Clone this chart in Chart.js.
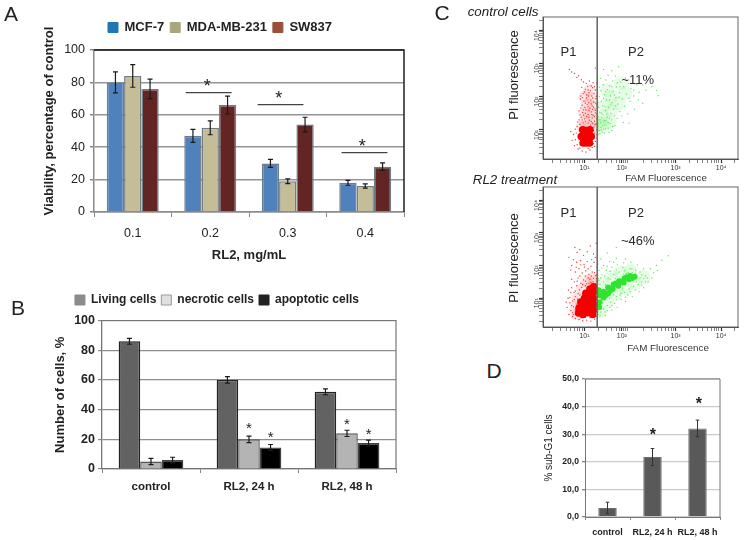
<!DOCTYPE html>
<html>
<head>
<meta charset="utf-8">
<title>RL2 viability and apoptosis</title>
<script src="https://cdn.jsdelivr.net/npm/chart.js@4/dist/chart.umd.min.js"></script>
<style>
  html, body { margin: 0; padding: 0; background: #fff; }
  #page { position: relative; width: 745px; height: 540px; overflow: hidden; font-family: "Liberation Sans", Arial, sans-serif; }
  canvas { position: absolute; }
  .note { position: absolute; white-space: nowrap; transform-origin: center; color: #222; }
</style>
</head>
<body>
<div id="page"></div>
<script>
// panel A
const doses = ["0.1", "0.2", "0.3", "0.4"];
const mcf7 = [80, 47, 30, 18];
const mda = [84, 52, 19, 16];
const sw837 = [76, 66, 54, 28];
const mcf7Err = [6.5, 4, 2.5, 1.5];
const mdaErr = [7, 4.3, 1.5, 1.3];
const sw837Err = [6, 5.5, 4.5, 2.3];
const sigLinesA = [[0.98, 73.7], [1.907, 66.3], [2.99, 36.6]];
const starsA = [[0.96, 79.4], [1.885, 72.2], [2.96, 42.8]];

// panel B
const treatments = ["control", "RL2, 24 h", "RL2, 48 h"];
const living = [86, 60, 52];
const necrotic = [5, 20, 24];
const apoptotic = [6, 14.5, 17.5];
const livingErr = [2, 2.2, 2];
const necroticErr = [2.1, 2.2, 2.1];
const apoptoticErr = [1.9, 2, 2];
const starsB = [[1, 29.2], [1.22, 23.2], [2, 31.9], [2.22, 24.8]];

// panel D
const subG1 = [3.3, 21.7, 32.1];
const subG1Err = [2.05, 3.1, 3];
const starsD = [[1.01, 30.7], [2.03, 41.9]];

// panel C, both axes in decades of fluorescence
const cTicksX = [1, 1.82, 3, 4];
const cTicksY = [1, 2, 3, 4];
const cTickNames = ["10¹", "10²", "10³", "10⁴"];
const gateX = 1.28;

const ctrlRedCore = [[1.04,0.79],[0.98,0.72],[1.1,0.72],[0.98,0.88],[1.1,0.88],[1.04,0.6],[1.04,0.98],[0.93,0.8],[1.15,0.8],[0.97,0.6],[1.11,0.6],[0.96,1],[1.12,1],[1.04,0.88],[1.04,0.7],[0.98,0.8],[1.1,0.8]];
const ctrlRedHaze = [[1.1,2.2],[1,2],[1.15,1.95],[1.05,1.75],[1.18,1.7],[1,1.5],[1.12,1.45],[1.2,1.3],[1,1.25],[1.1,1.1],[1.2,1.05],[0.95,1.1]];
const ctrlRed = [[0.67,2.82],[0.72,2.74],[0.78,2.7],[0.83,2.58],[0.87,2.63],[0.93,2.51],[0.98,2.44],[1.04,2.4],[1.11,2.47],[1.19,2.42],[1.24,2.86],[1.27,2.41],
  [0.94,2.28],[1.02,2.22],[1.07,2.31],[1.13,2.18],[1.18,2.27],[1.24,2.2],[0.97,2.09],[1.05,2.05],[1.1,2.12],[1.16,2.02],[1.21,2.09],[1.26,2.01],
  [0.91,1.93],[0.99,1.87],[1.04,1.96],[1.09,1.82],[1.14,1.9],[1.2,1.84],[1.25,1.94],[0.95,1.74],[1.01,1.68],[1.06,1.76],[1.12,1.65],[1.17,1.72],[1.23,1.63],[1.27,1.75],
  [0.88,1.57],[0.96,1.52],[1.03,1.6],[1.08,1.46],[1.15,1.54],[1.19,1.44],[1.24,1.51],[0.93,1.38],[1,1.33],[1.05,1.41],[1.11,1.29],[1.17,1.36],[1.22,1.26],[1.27,1.33],
  [0.85,1.24],[0.9,1.16],[0.97,1.21],[1.13,1.14],[1.2,1.08],[1.25,1.17],[0.8,1.02],[0.76,0.86],[0.73,0.68],[1.22,0.9],[1.26,0.75],[1.2,0.58],[0.78,0.52],[0.86,0.42],[0.95,0.36],[1.03,0.33],[1.12,0.39],[1.17,0.47],[0.7,0.95],[1.27,1],
  [0.92,2.02],[1,2.14],[1.08,2.2],[1.15,2.32],[1.22,2.3],[1.09,2.02],[1.18,1.96],[0.96,1.97],[1.02,1.8],[1.08,1.7],[1.15,1.78],[1.2,1.68],[1.25,1.8],[0.92,1.66],[0.98,1.6],[1.1,1.58],[1.18,1.62],[1.24,1.58],[0.9,1.45],[0.98,1.44],[1.02,1.5],[1.1,1.38],
  [1.16,1.46],[1.22,1.4],[1.27,1.48],[1.02,1.26],[1.08,1.2],[1.15,1.25],[1.23,1.15],[0.95,1.3],[1.18,1.2],[1.27,1.2],[0.84,1.1],[0.88,1.3],[0.82,0.9],[0.8,0.7],[1.2,0.98],[1.24,0.65],[0.84,0.55],[1.16,0.55],[0.9,0.45],[1.08,0.44],[1.27,0.86],[1.22,0.5]];
const ctrlGreenHaze = [[1.4,1.1],[1.55,1.25],[1.4,1.4],[1.35,1.2],[1.6,1.6],[1.45,1.75],[1.75,1.8],[1.6,2],[1.9,2.1],[1.5,2.2],[1.8,2.4]];
const ctrlGreen = [[1.3,0.86],[1.33,0.98],[1.36,1.08],[1.31,1.18],[1.39,0.93],[1.42,1.02],[1.35,1.22],[1.44,1.15],[1.32,1.3],[1.47,1.27],[1.38,1.36],[1.52,1.05],[1.56,1.19],[1.41,1.45],[1.5,1.38],[1.6,1.3],[1.34,1.52],[1.46,1.58],[1.58,1.49],[1.67,1.12],[1.72,1.34],
  [1.31,1.67],[1.4,1.72],[1.53,1.68],[1.64,1.62],[1.78,1.55],[1.85,1.22],[1.37,1.85],[1.48,1.9],[1.6,1.82],[1.73,1.78],[1.88,1.71],[1.95,1.48],[1.33,2],[1.44,2.06],[1.57,2.02],[1.69,1.97],[1.83,1.93],[2,1.86],[2.1,1.62],
  [1.36,2.18],[1.5,2.21],[1.63,2.15],[1.77,2.12],[1.92,2.08],[2.08,2.02],[1.41,2.36],[1.55,2.33],[1.7,2.29],[1.86,2.3],[2.02,2.25],[2.2,2.13],[1.47,2.5],[1.62,2.47],[1.8,2.44],[1.96,2.4],[2.15,2.36],[2.35,2.2],[2.48,2.3],
  [1.52,2.64],[1.68,2.62],[1.9,2.56],[1.6,2.78],[1.75,2.9],[1.42,2.82],[2.58,2.18],[2.62,2.03],[1.98,1.2],[1.6,0.98],
  [1.3,0.98],[1.34,0.88],[1.37,1],[1.3,1.1],[1.4,1.12],[1.46,1.03],[1.35,1.3],[1.43,1.28],[1.52,1.22],[1.3,1.4],[1.38,1.5],[1.49,1.48],[1.62,1.1],[1.55,1.35],[1.66,1.42],[1.44,0.9],[1.54,0.92],[1.3,1.82],[1.45,1.7],[1.58,1.75],[1.68,1.72],[1.82,1.42],[1.42,1.95],[1.55,1.9],[1.76,1.98],[1.33,2.28],[1.46,2.15],[1.66,2.05],[1.98,1.95],[2.18,1.9],[2.28,1.8],[1.6,2.3],[1.78,2.3],[2.08,2.2],[2.28,2.35],[1.35,2.55],[1.72,2.42]];

const treatRedCore = [[1.2,1.35],[1.12,1.28],[1.2,1.18],[1.1,1.1],[1.2,1],[1,1],[1.1,0.9],[1.2,0.82],[0.92,0.88],[1.01,0.82],[1.11,0.72],[1.2,0.64],[0.88,0.7],[0.98,0.65],[1.07,0.56],[1.18,0.5],[0.87,0.55],[0.97,0.5],[1.03,1.15]];
const treatRedHaze = [[1.15,1.6],[1.05,1.5],[1.2,1.5],[0.95,1.3],[0.85,1],[0.8,0.75],[0.82,0.5]];
const treatRed = [[0.66,2.25],[0.79,2.55],[0.84,2.4],[0.9,2.49],[0.98,2.31],[1.06,2.42],[1.13,2.6],[1.2,2.35],[1.26,2.68],[0.76,2.18],[0.83,2.1],[0.91,2.15],[0.99,2.03],[1.06,2.12],[1.14,1.98],[1.21,2.1],[1.27,1.95],
  [0.7,1.86],[0.8,1.8],[0.88,1.91],[0.95,1.77],[1.03,1.84],[1.1,1.72],[1.17,1.8],[1.24,1.69],[0.72,1.58],[0.78,1.5],[0.86,1.62],[0.92,1.46],[0.98,1.56],[1.05,1.44],[1.12,1.58],[1.19,1.5],[1.26,1.6],
  [0.65,1.25],[0.72,1.32],[0.77,1.18],[0.83,1.38],[0.89,1.26],[0.94,1.33],[1,1.22],[0.68,1.02],[0.74,0.92],[0.8,1.05],[0.85,0.97],[0.9,1.1],[0.62,0.72],[0.7,0.62],[0.76,0.74],[0.82,0.82],[0.66,0.5],[0.74,0.44],[0.8,0.38],[0.88,0.35],[0.96,0.31],[1.05,0.33],[1.14,0.3],[1.22,0.36],[0.84,0.48],[1.27,1.42],
  [0.72,2],[0.82,1.95],[0.92,2.02],[1,1.95],[1.08,1.9],[1.16,2.18],[1.24,2.25],[1.02,1.68],[1.08,1.62],[1.15,1.68],[1.22,1.78],[1.27,1.72],[0.9,1.68],[0.84,1.52],[0.96,1.42],[1.02,1.52],[1.08,1.36],[1.14,1.48],[1.2,1.6],[1.24,1.44],[1.27,1.52],[1.16,1.42],[1.02,1.38],[1.1,1.45],
  [0.8,1.22],[0.86,1.14],[0.7,1.18],[0.64,1],[0.78,0.96],[0.72,0.78],[0.8,0.64],[0.74,0.56],[0.68,0.86],[0.76,0.5],[0.92,0.4],[1.02,0.42],[1.12,0.4],[1.2,0.42],[1.27,0.44],[0.83,0.7],[0.6,0.88]];
const treatGreenCore = [[1.33,0.88],[1.34,1.08],[1.42,1.02],[1.42,1.2],[1.52,1.15],[1.52,1.33],[1.62,1.28],[1.64,1.42],[1.74,1.38],[1.76,1.52],[1.86,1.48],[1.88,1.6],[1.98,1.58],[2,1.68],[2.1,1.66],[1.32,0.72],[1.31,1.24],[1.47,1.1],[1.57,1.24],[1.69,1.45],[1.81,1.5],[1.93,1.64],[2.05,1.62]];
const treatGreenHaze = [[1.5,0.9],[1.7,1.15],[1.9,1.3],[2.1,1.45],[1.4,1.45],[1.6,1.65],[1.8,1.78],[2,1.85],[2.3,1.65],[1.35,0.6]];
const treatGreen = [[1.3,0.5],[1.36,0.58],[1.42,0.67],[1.5,0.78],[1.58,0.88],[1.46,0.48],[1.6,0.64],[1.7,0.95],[1.78,1.1],[1.88,1.18],[1.98,1.28],[2.08,1.36],[2.18,1.42],[2.26,1.5],[1.72,0.72],[1.9,0.9],[2.05,1.05],[2.2,1.2],[2.3,1.32],[2.4,1.5],[2.34,1.68],[2.22,1.8],[2.12,1.86],[2,1.9],[1.88,1.84],[1.76,1.8],[1.64,1.72],[1.52,1.62],[1.42,1.5],[1.34,1.42],
  [1.3,1.6],[1.38,1.72],[1.48,1.85],[1.6,1.95],[1.72,2.02],[1.86,2.08],[2.02,2.1],[1.32,1.85],[1.42,2],[1.55,2.12],[1.7,2.22],[1.36,2.2],[1.5,2.38],[2.16,2.02],[2.45,1.9],[2.58,2],[2.7,2.16],[2.84,2.3],[1.7,2.55],[1.95,2.75],[1.4,0.85],[1.55,1],[1.64,1.1],[1.84,1.28],[2.14,1.5],[2.3,1.6],[2.48,1.62],[1.85,1.72],[2.05,1.78],[2.3,1.9],
  [1.3,0.58],[1.38,0.68],[1.5,0.62],[1.56,0.72],[1.66,0.84],[1.8,0.96],[1.95,1.1],[2.12,1.25],[2.26,1.4],[2.34,1.5],[2.22,1.62],[2.26,1.72],[2.38,1.62],[2.12,1.76],[1.96,1.78],[1.84,1.94],[1.7,1.86],[1.56,1.82],[1.44,1.68],[1.32,1.55],[1.36,1.62],[1.46,1.42],[1.56,1.58],[1.68,1.6],[1.92,1.76],[2.04,1.9],[1.5,1.98],[1.64,2.1],[1.38,1.92],[1.9,2.2],[1.3,2.05],[1.8,1.15],[1.7,1.05],[1.6,0.78],[2,1.2],[1.9,1.03],[1.45,0.58],[1.34,0.46],[2.52,1.78],[2.6,1.85]];

Chart.defaults.font.family = '"Liberation Sans", Arial, sans-serif';
Chart.defaults.color = "#222";
Chart.defaults.animation = false;

const page = document.getElementById("page");

function addCanvas(id, left, top, width, height) {
  const c = document.createElement("canvas");
  c.id = id;
  c.width = width;
  c.height = height;
  c.style.left = left + "px";
  c.style.top = top + "px";
  page.appendChild(c);
  return c;
}

function place(text, cx, cy, css, rot) {
  const d = document.createElement("div");
  d.className = "note";
  d.textContent = text;
  d.style.cssText = css;
  d.style.left = cx + "px";
  d.style.top = cy + "px";
  d.style.transform = `translate(-50%,-50%) rotate(${rot || 0}deg)`;
  page.appendChild(d);
}

// error bars, stars, significance lines and the outer frame of the bar panels
const barExtras = {
  id: "barExtras",
  afterDatasetsDraw(chart, args, o) {
    const { ctx, chartArea: a, scales: { x, y } } = chart;
    ctx.save();
    ctx.strokeStyle = o.errColor || "#1a1a1a";
    ctx.lineWidth = o.errWidth || 1.2;
    o.errors.forEach((errs, i) => {
      chart.getDatasetMeta(i).data.forEach((bar, j) => {
        const v = chart.data.datasets[i].data[j];
        const hi = y.getPixelForValue(v + errs[j]);
        const lo = y.getPixelForValue(v - errs[j]);
        ctx.beginPath();
        ctx.moveTo(bar.x, hi); ctx.lineTo(bar.x, lo);
        ctx.moveTo(bar.x - o.cap, hi); ctx.lineTo(bar.x + o.cap, hi);
        ctx.moveTo(bar.x - o.cap, lo); ctx.lineTo(bar.x + o.cap, lo);
        ctx.stroke();
      });
    });
    ctx.strokeStyle = "#444";
    ctx.lineWidth = 1.2;
    (o.sigLines || []).forEach(([c, v]) => {
      const yy = y.getPixelForValue(v);
      ctx.beginPath();
      ctx.moveTo(x.getPixelForValue(c - 0.296), yy);
      ctx.lineTo(x.getPixelForValue(c + 0.296), yy);
      ctx.stroke();
    });
    ctx.fillStyle = "#222";
    ctx.font = o.starFont;
    ctx.textAlign = "center";
    ctx.textBaseline = "middle";
    o.stars.forEach(([c, v]) => {
      ctx.fillText("*", x.getPixelForValue(c), y.getPixelForValue(v) + o.starShift);
    });
    ctx.strokeStyle = o.frame;
    ctx.lineWidth = o.frameWidth;
    ctx.beginPath();
    ctx.moveTo(a.left, a.top); ctx.lineTo(a.right, a.top); ctx.lineTo(a.right, a.bottom);
    ctx.stroke();
    ctx.restore();
  }
};

// pushes the plot down from the legend
const legendGap = {
  id: "legendGap",
  beforeInit(chart) {
    const fit = chart.legend.fit;
    chart.legend.fit = function () {
      fit.bind(chart.legend)();
      this.height += chart.options.plugins.legendGap.extra;
    };
  }
};

function legendOptions(colors, borders, font, pad) {
  return {
    position: "top",
    labels: {
      boxWidth: 10, boxHeight: 10, padding: pad, color: "#222", font: font,
      generateLabels(chart) {
        return Chart.defaults.plugins.legend.labels.generateLabels(chart).map((l, i) => ({
          ...l, fillStyle: colors[i], strokeStyle: borders[i], lineWidth: 1
        }));
      }
    }
  };
}

// panel A
new Chart(addCanvas("panelA", 0, 0, 440, 270), {
  type: "bar",
  data: {
    labels: doses,
    datasets: [
      { label: "MCF-7", data: mcf7, backgroundColor: "#4f81bd" },
      { label: "MDA-MB-231", data: mda, backgroundColor: "#c4bd97" },
      { label: "SW837", data: sw837, backgroundColor: "#632523" }
    ].map(d => ({ ...d, borderColor: "#6f7b85", borderWidth: 1.5, categoryPercentage: 0.67, barPercentage: 1 }))
  },
  options: {
    responsive: false,
    layout: { padding: { left: 36, right: 36, top: 15 } },
    plugins: {
      legendGap: { extra: 6 },
      legend: legendOptions(["#1f78b4", "#aca67f", "#9a4f3d"], ["#1f78b4", "#aca67f", "#9a4f3d"], { size: 13, weight: "bold" }, 6),
      tooltip: { enabled: false },
      barExtras: { errors: [mcf7Err, mdaErr, sw837Err], cap: 2.5, sigLines: sigLinesA, stars: starsA, starFont: "18px 'Liberation Sans'", starShift: 4, frame: "#111", frameWidth: 1.4 }
    },
    scales: {
      x: {
        afterFit(s) { s.height = 58; },
        grid: { drawOnChartArea: false, tickLength: 5, tickColor: "#888", tickWidth: 1 },
        border: { color: "#8a8a8a", width: 1.5 },
        ticks: { padding: 9, font: { size: 12.5 } },
        title: { display: true, text: "RL2, mg/mL", font: { size: 13, weight: "bold" }, padding: { top: 8, bottom: 7 } }
      },
      y: {
        min: 0, max: 100,
        afterFit(s) { s.width = 58; },
        grid: { color: "#959595", lineWidth: 1.5, tickLength: 4, tickColor: "#888" },
        border: { color: "#8a8a8a", width: 1.5 },
        ticks: { stepSize: 20, padding: 5, font: { size: 12.5 } }
      }
    }
  },
  plugins: [barExtras, legendGap]
});

// panel B
new Chart(addCanvas("panelB", 0, 270, 434, 230), {
  type: "bar",
  data: {
    labels: treatments,
    datasets: [
      { label: "Living cells", data: living, backgroundColor: "#626262", borderColor: "#222" },
      { label: "necrotic cells", data: necrotic, backgroundColor: "#b4b4b4", borderColor: "#555" },
      { label: "apoptotic cells", data: apoptotic, backgroundColor: "#000", borderColor: "#444" }
    ].map(d => ({ ...d, borderWidth: 1.4, categoryPercentage: 0.66, barPercentage: 1 }))
  },
  options: {
    responsive: false,
    layout: { padding: { left: 38, right: 38, top: 19 } },
    plugins: {
      legendGap: { extra: 4.5 },
      legend: legendOptions(["#8c8c8c", "#e0e0e0", "#222"], ["#8c8c8c", "#999", "#222"], { size: 12, weight: "bold" }, 5),
      tooltip: { enabled: false },
      barExtras: { errors: [livingErr, necroticErr, apoptoticErr], cap: 2.5, stars: starsB, starFont: "15px 'Liberation Sans'", starShift: 3, frame: "#777", frameWidth: 1.2 }
    },
    scales: {
      x: {
        afterFit(s) { s.height = 31; },
        grid: { drawOnChartArea: false, tickLength: 4, tickColor: "#888" },
        border: { color: "#777", width: 1.3 },
        ticks: { padding: 7, font: { size: 11.5, weight: "bold" } }
      },
      y: {
        min: 0, max: 100,
        afterFit(s) { s.width = 64; },
        grid: { color: "#8e8e8e", lineWidth: 1.2, tickLength: 4, tickColor: "#888" },
        border: { color: "#777", width: 1.3 },
        ticks: { stepSize: 20, padding: 3, font: { size: 12.5, weight: "bold" } },
        title: { display: true, text: "Number of cells, %", font: { size: 13, weight: "bold" }, padding: { top: 15, bottom: 0 } }
      }
    }
  },
  plugins: [barExtras, legendGap]
});

// panel D
new Chart(addCanvas("panelD", 535, 370, 210, 170), {
  type: "bar",
  data: {
    labels: treatments,
    datasets: [{ data: subG1, backgroundColor: "#595959", borderColor: "#6e6e6e", borderWidth: 1, categoryPercentage: 0.41, barPercentage: 1 }]
  },
  options: {
    responsive: false,
    layout: { padding: { right: 25, top: 9 } },
    plugins: {
      legend: { display: false },
      tooltip: { enabled: false },
      barExtras: { errors: [subG1Err], cap: 1.8, errWidth: 1, errColor: "#333", stars: starsD, starFont: "bold 16px 'Liberation Sans'", starShift: 3, frame: "#777", frameWidth: 1 }
    },
    scales: {
      x: {
        afterFit(s) { s.height = 23; },
        grid: { drawOnChartArea: false, tickLength: 3, tickColor: "#888" },
        border: { color: "#777", width: 1 },
        ticks: { padding: 7, autoSkip: false, minRotation: 0, maxRotation: 0, font: { size: 9, weight: "bold" } }
      },
      y: {
        min: 0, max: 50,
        afterFit(s) { s.width = 50; },
        grid: { color: "#cbcbcb", lineWidth: 1.3, tickLength: 3, tickColor: "#888" },
        border: { color: "#777", width: 1 },
        ticks: { stepSize: 10, padding: 3, font: { size: 8.6, weight: "bold" }, callback: v => v.toFixed(1).replace(".", ",") },
        title: { display: true, text: "% sub-G1 cells", font: { size: 10 }, padding: { top: 8, bottom: 0 } }
      }
    }
  },
  plugins: [barExtras]
});

// panel C plots
const minorOffsets = [0.3, 0.48, 0.6, 0.7, 0.78, 0.85, 0.9, 0.95];

function decadeTicks(majors, min, max) {
  const list = majors.slice();
  [0, 1, 2, 3, 4].forEach(d => minorOffsets.forEach(o => {
    if (d + o > min && d + o < max) list.push(d + o);
  }));
  return list.sort((a, b) => a - b).map(v => ({ value: v }));
}

function tickName(majors) {
  return v => (majors.includes(v) ? cTickNames[majors.indexOf(v)] : "");
}

const cytoExtras = {
  id: "cytoExtras",
  afterDraw(chart, args, o) {
    const { ctx, chartArea: a, scales: { x, y } } = chart;
    ctx.save();
    ctx.strokeStyle = "#555";
    ctx.lineWidth = 0.9;
    ctx.strokeRect(a.left, a.top, a.right - a.left, a.bottom - a.top);
    ctx.strokeStyle = "#6a6a6a";
    ctx.lineWidth = 1.6;
    ctx.beginPath();
    ctx.moveTo(x.getPixelForValue(gateX), a.top);
    ctx.lineTo(x.getPixelForValue(gateX), a.bottom);
    ctx.stroke();
    ctx.fillStyle = "#2a2a2a";
    ctx.font = "13px 'Liberation Sans'";
    ctx.textAlign = "center";
    ctx.textBaseline = "middle";
    o.notes.forEach(([t, vx, vy]) => ctx.fillText(t, x.getPixelForValue(vx), y.getPixelForValue(vy)));
    ctx.restore();
  }
};

function cytoChart(id, top, height, series, notes) {
  const xMin = 0.09, xMax = 4.37, yMin = 0.12, yMax = 4.4;
  const dots = (data, color, r) => ({ data: data, backgroundColor: color, borderWidth: 0, pointRadius: r, pointBorderWidth: 0 });
  return new Chart(addCanvas(id, 520, top, 225, height), {
    type: "scatter",
    data: {
      datasets: [
        dots(series.redCore, "#f40000", 3.8),
        dots(series.greenCore, "#2ee52e", 3),
        dots(series.red, "#f43a3a", 0.7),
        dots(series.green, "#5fea5f", 0.7),
        dots(series.redHaze, "rgba(255,70,70,0.14)", 6),
        dots(series.greenHaze, "rgba(80,235,80,0.14)", 7)
      ]
    },
    options: {
      responsive: false,
      layout: { padding: { right: 3, top: 7 } },
      plugins: { legend: { display: false }, tooltip: { enabled: false }, cytoExtras: { notes: notes } },
      scales: {
        x: {
          type: "linear", min: xMin, max: xMax,
          afterBuildTicks(s) { s.ticks = decadeTicks(cTicksX, xMin, xMax); },
          afterFit(s) { s.height = 19; },
          grid: { drawOnChartArea: false, tickLength: 4, tickColor: "#333", tickWidth: c => (cTicksX.includes(c.tick.value) ? 1.2 : 0.6) },
          border: { color: "#555" },
          ticks: { autoSkip: false, maxRotation: 0, padding: 1, font: { size: 7 }, color: "#333", callback: tickName(cTicksX) }
        },
        y: {
          type: "linear", min: yMin, max: yMax,
          afterBuildTicks(s) { s.ticks = decadeTicks(cTicksY, yMin, yMax); },
          afterFit(s) { s.width = 23; },
          grid: { drawOnChartArea: false, tickLength: 4, tickColor: "#333", tickWidth: c => (cTicksY.includes(c.tick.value) ? 1.2 : 0.6) },
          border: { color: "#555" },
          ticks: { autoSkip: false, minRotation: 90, padding: 2, font: { size: 7 }, color: "#333", callback: tickName(cTicksY) }
        }
      }
    },
    plugins: [cytoExtras]
  });
}

cytoChart("panelC1", 10, 168, { redCore: ctrlRedCore, redHaze: ctrlRedHaze, red: ctrlRed, greenCore: [], greenHaze: ctrlGreenHaze, green: ctrlGreen },
  [["P1", 0.65, 3.34], ["P2", 2.13, 3.34], ["~11%", 2.17, 2.5]]);
cytoChart("panelC2", 180, 166, { redCore: treatRedCore, redHaze: treatRedHaze, red: treatRed, greenCore: treatGreenCore, greenHaze: treatGreenHaze, green: treatGreen },
  [["P1", 0.65, 3.6], ["P2", 2.13, 3.6], ["~46%", 2.17, 2.74]]);

// panel letters and the labels that sit off centre
place("A", 11, 14, "font-size:21px");
place("B", 18, 308, "font-size:21px");
place("C", 442, 13, "font-size:21px");
place("D", 494, 371, "font-size:21px");
place("Viability, percentage of control", 48, 121, "font-size:13px;font-weight:bold", -90);
place("control cells", 503, 11, "font-size:13.4px;font-style:italic");
place("RL2 treatment", 515, 179, "font-size:13.3px;font-style:italic");
place("PI fluorescence", 513, 75, "font-size:13px", -90);
place("PI fluorescence", 513, 258, "font-size:13px", -90);
place("FAM Fluorescence", 666, 177, "font-size:9.8px;color:#333");
place("FAM Fluorescence", 668, 347, "font-size:9.8px;color:#333");
</script>
</body>
</html>
